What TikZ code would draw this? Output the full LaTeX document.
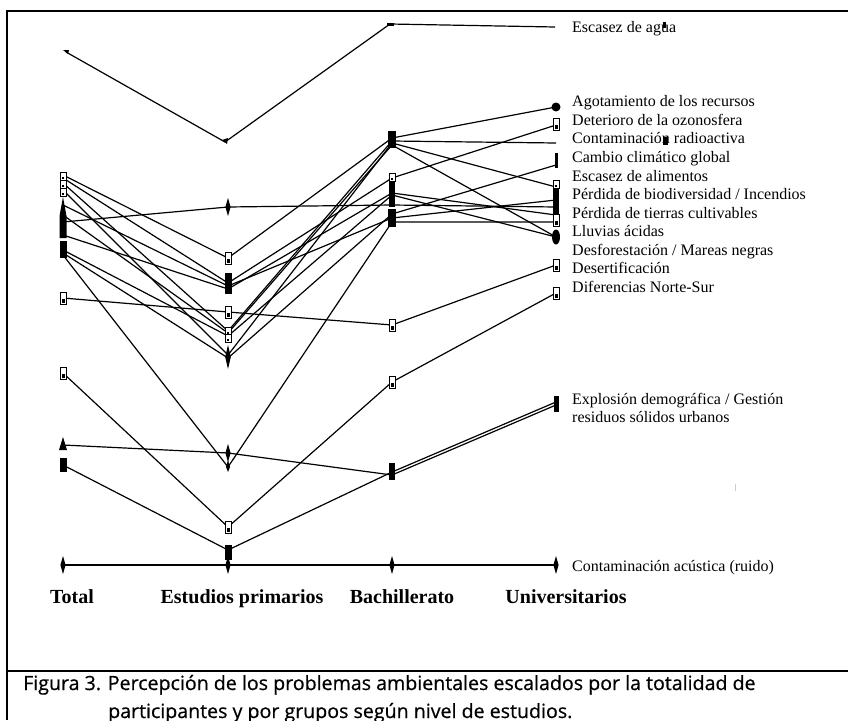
\documentclass[tikz,border=0pt]{standalone}
\usepackage{fontspec}
\setmainfont{Liberation Serif}
\newfontfamily\capfont[FakeBold=0.6]{Open Sans}
\begin{document}
\begin{tikzpicture}[x=1pt,y=-1pt,
  ln/.style={line width=1.2pt,line join=round},
  frame/.style={line width=2pt},
  lab/.style={anchor=base west,inner sep=0pt,font=\fontsize{16}{18}\selectfont},
  labs/.style={anchor=base west,inner sep=0pt,font=\fontsize{16}{18}\selectfont},
  axl/.style={anchor=base,inner sep=0pt,font=\fontsize{20}{22}\selectfont\bfseries},
  capl/.style={anchor=base west,inner sep=0pt,font=\capfont\fontsize{19.6}{22}\selectfont},
  sqm/.pic={\draw[line width=1pt,fill=white] (-3,-6) rectangle (3,6); \fill (-1.5,1) rectangle (1.5,5);},
  sqs/.pic={\draw[line width=1pt,fill=white] (-3,-4) rectangle (3,4); \fill (-1.3,0.5) rectangle (1.3,3);},
  diam/.pic={\fill (0,-9) -- (2.6,0) -- (0,9) -- (-2.6,0) -- cycle;},
  diab/.pic={\fill (0,-12) -- (2.8,0) -- (0,12) -- (-2.8,0) -- cycle;}
]
\useasboundingbox (0,0) rectangle (848,720);
% frame
\draw[frame] (7,720) -- (7,11) -- (848,11);
\draw[frame] (7,671) -- (848,671);

% ---- coordinates: Total (T), Estudios primarios (E), Bachillerato (B), Universitarios (U)
% Escasez de agua
\coordinate (t0) at (66,52);  \coordinate (e0) at (225,142); \coordinate (b0) at (390,24); \coordinate (u0) at (555,27);
% Agotamiento
\coordinate (t1) at (63,175); \coordinate (e1) at (228,258); \coordinate (b1) at (392,138); \coordinate (u1) at (556,107);
% Deterioro
\coordinate (t2) at (63,178); \coordinate (e2) at (228,283); \coordinate (b2) at (392,178); \coordinate (u2) at (556,125);
% Contaminacion radioactiva
\coordinate (t3) at (63,183); \coordinate (e3) at (228,331); \coordinate (b3) at (392,141); \coordinate (u3) at (556,143);
% Escasez de alimentos
\coordinate (t4) at (63,190); \coordinate (e4) at (228,355); \coordinate (b4) at (392,143); \coordinate (u4) at (556,187);
% Perdida de biodiversidad
\coordinate (t5) at (63,222); \coordinate (e5) at (228,207); \coordinate (b5) at (392,205); \coordinate (u5) at (556,207);
% Incendios
\coordinate (t6) at (63,205); \coordinate (e6) at (228,286); \coordinate (b6) at (392,218); \coordinate (u6) at (556,200);
% Lluvias acidas
\coordinate (t7) at (63,215); \coordinate (e7) at (228,333); \coordinate (b7) at (392,145); \coordinate (u7) at (556,237);
% Perdida de tierras
\coordinate (t8) at (63,235); \coordinate (e8) at (228,289); \coordinate (b8) at (392,193); \coordinate (u8) at (556,215);
% Mareas negras
\coordinate (t9) at (63,250); \coordinate (e9) at (228,336); \coordinate (b9) at (392,195); \coordinate (u9) at (556,237);
% Cambio climatico
\coordinate (t10) at (63,253); \coordinate (e10) at (228,358); \coordinate (b10) at (392,214); \coordinate (u10) at (556,165);
% Desforestacion
\coordinate (t11) at (63,255); \coordinate (e11) at (228,467); \coordinate (b11) at (392,222); \coordinate (u11) at (556,222);
% Desertificacion
\coordinate (t12) at (63,298); \coordinate (e12) at (228,312); \coordinate (b12) at (392,325); \coordinate (u12) at (556,265);
% Diferencias Norte-Sur
\coordinate (t13) at (63,373); \coordinate (e13) at (228,527); \coordinate (b13) at (392,382); \coordinate (u13) at (556,293);
% Explosion demografica
\coordinate (t14) at (63,445); \coordinate (e14) at (228,453); \coordinate (b14) at (392,475); \coordinate (u14) at (556,405);
% Gestion residuos
\coordinate (t15) at (63,465); \coordinate (e15) at (228,550); \coordinate (b15) at (392,472); \coordinate (u15) at (556,402);
% Contaminacion acustica
\coordinate (t16) at (63,565); \coordinate (e16) at (228,565); \coordinate (b16) at (392,565); \coordinate (u16) at (556,565);

% ---- series lines
\foreach \i in {0,...,16}{
  \draw[ln] (t\i) -- (e\i) -- (b\i) -- (u\i);
}

% ---- markers: Total
\fill (63,50) -- (69,50) -- (68,54) -- cycle;
\pic at (63,176) {sqs}; \pic at (63,184) {sqs}; \pic at (63,192) {sqs};
\fill (63,197) -- (66.5,216) -- (66.5,238) -- (59.5,238) -- (59.5,216) -- cycle;
\fill (59.5,241) rectangle (66.5,258);
\pic at (63,298) {sqm};
\pic at (63,373) {sqm};
\fill (63,437) -- (67,450) -- (59,450) -- cycle;
\fill (59.5,458) rectangle (66.5,472);
\pic at (63,565) {diam};
% markers: Estudios primarios
\fill (222,140) -- (228,138) -- (227,144) -- cycle;
\pic at (228,207) {diam};
\pic at (228,258) {sqm};
\fill (224.5,273) rectangle (231.5,294);
\pic at (228,312) {sqm};
\pic at (228,331) {sqs}; \pic at (228,338) {sqs};
\pic at (228,357) {diab};
\pic at (228,453) {diam};
\fill (228,460) -- (230,467) -- (228,472) -- (226,467) -- cycle;
\pic at (228,527) {sqm};
\fill (224.5,545) rectangle (231.5,560);
\pic at (228,565) {diam};
% markers: Bachillerato
\fill (387,22.5) rectangle (394,25.5);
\fill (388,131) rectangle (396,148);
\pic at (392,177) {sqs};
\fill (389,182) rectangle (395,207);
\fill (388,209) rectangle (396,227);
\pic at (392,325) {sqm};
\pic at (392,382) {sqm};
\fill (389,463) rectangle (395,480);
\pic at (392,565) {diam};
% markers: Universitarios
\fill (556,107) circle (4.5);
\pic at (556,124) {sqm};
\fill (554.5,153) rectangle (557.5,168);
\pic at (556,184) {sqs};
\fill (553,188) rectangle (559,216);
\pic at (556,220) {sqm};
\fill (556,237) ellipse (4 and 7.5);
\pic at (556,265) {sqm};
\pic at (556,293) {sqm};
\fill (553.5,396) rectangle (558.5,412);
\pic at (556,565) {diam};

% ---- small artefacts
\fill (663,22) rectangle (666,28);
\fill (663,137) rectangle (668,145);
\draw[gray!40,line width=1pt] (735,484) -- (735,491);

% ---- labels
\node[lab] (l0) at (572,32) {Escasez de agua};
\node[lab] (l1) at (572,106) {Agotamiento de los recursos};
\node[lab] (l2) at (572,125) {Deterioro de la ozonosfera};
\node[lab] (l3) at (572,143) {Contaminación radioactiva};
\node[lab] (l4) at (572,162) {Cambio climático global};
\node[lab] (l5) at (572,181) {Escasez de alimentos};
\node[lab] (l6) at (572,199) {Pérdida de biodiversidad / Incendios};
\node[lab] (l7) at (572,218) {Pérdida de tierras cultivables};
\node[lab] (l8) at (572,236) {Lluvias ácidas};
\node[lab] (l9) at (572,255) {Desforestación / Mareas negras};
\node[lab] (l10) at (572,273) {Desertificación};
\node[lab] (l11) at (572,292) {Diferencias Norte-Sur};
\node[labs] (l12) at (572,404) {Explosión demográfica / Gestión};
\node[labs] (l13) at (572,422) {residuos sólidos urbanos};
\node[labs] (l14) at (572,571) {Contaminación acústica (ruido)};

\node[axl] (a1) at (72,603) {Total};
\node[axl] (a2) at (242,603) {Estudios primarios};
\node[axl] (a3) at (402,603) {Bachillerato};
\node[axl] (a4) at (566,603) {Universitarios};

\node[capl] (c1) at (23,690) {Figura 3. Percepción de los problemas ambientales escalados por la totalidad de};
\node[capl] (c2) at (108,718) {participantes y por grupos según nivel de estudios.};
\end{tikzpicture}
\end{document}
